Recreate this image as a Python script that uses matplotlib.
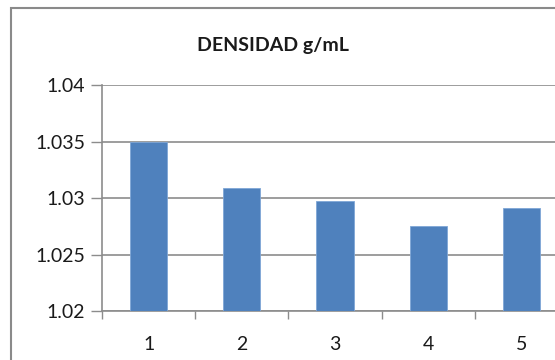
import matplotlib
matplotlib.use("Agg")
import matplotlib.pyplot as plt
from matplotlib.patches import Rectangle

# density per sample (g/mL)
muestras = ['1', '2', '3', '4', '5']
densidad = [1.0350, 1.0309, 1.0297, 1.0275, 1.0291]
y_ticks = [1.02, 1.025, 1.03, 1.035, 1.04]
y_labels = ['1.02', '1.025', '1.03', '1.035', '1.04']

plt.rcParams['font.family'] = ['Lato', 'DejaVu Sans']

fig = plt.figure(figsize=(5.55, 3.6), dpi=100)
ax = fig.add_axes([102 / 555, 49 / 360, 466 / 555, 226 / 360])

grid_col = '#8c8c8c'
x = list(range(1, len(muestras) + 1))
ax.bar(x, densidad, width=0.4, color='#4f81bd', edgecolor='#7fa6d6',
       linewidth=0.6, zorder=3)

ax.set_xlim(0.5, 5.5)
ax.set_ylim(1.02, 1.04)
ax.set_yticks(y_ticks)
ax.set_yticklabels(y_labels)
ax.set_xticks(x)
ax.set_xticklabels(muestras)
# category separators as minor ticks on the x axis
ax.set_xticks([0.5 + i for i in range(6)], minor=True)
ax.tick_params(axis='x', which='major', length=0, pad=18, labelsize=14, colors='#1a1a1a')
ax.tick_params(axis='x', which='minor', length=6, width=1, color=grid_col, direction='out')
ax.tick_params(axis='y', length=8, width=1, color=grid_col, labelsize=14, pad=4, labelcolor='#1a1a1a')

ax.yaxis.grid(True, color=grid_col, linewidth=1.2, zorder=0)
ax.set_axisbelow(True)
for side in ['top', 'right']:
    ax.spines[side].set_visible(False)
for side in ['left', 'bottom']:
    ax.spines[side].set_color(grid_col)
    ax.spines[side].set_linewidth(1.2)

fig.text(273 / 555, 1 - 46 / 360, 'DENSIDAD g/mL', ha='center', va='center',
         fontsize=14, fontweight='bold', color='#1a1a1a')

# outer chart frame
fig.patches.append(Rectangle((11 / 555, -0.2), 1.2, 0.2 + 1 - 8 / 360,
                             transform=fig.transFigure, fill=False,
                             edgecolor='#8a8a8a', linewidth=1.5))

fig.savefig('out.png', dpi=100)
